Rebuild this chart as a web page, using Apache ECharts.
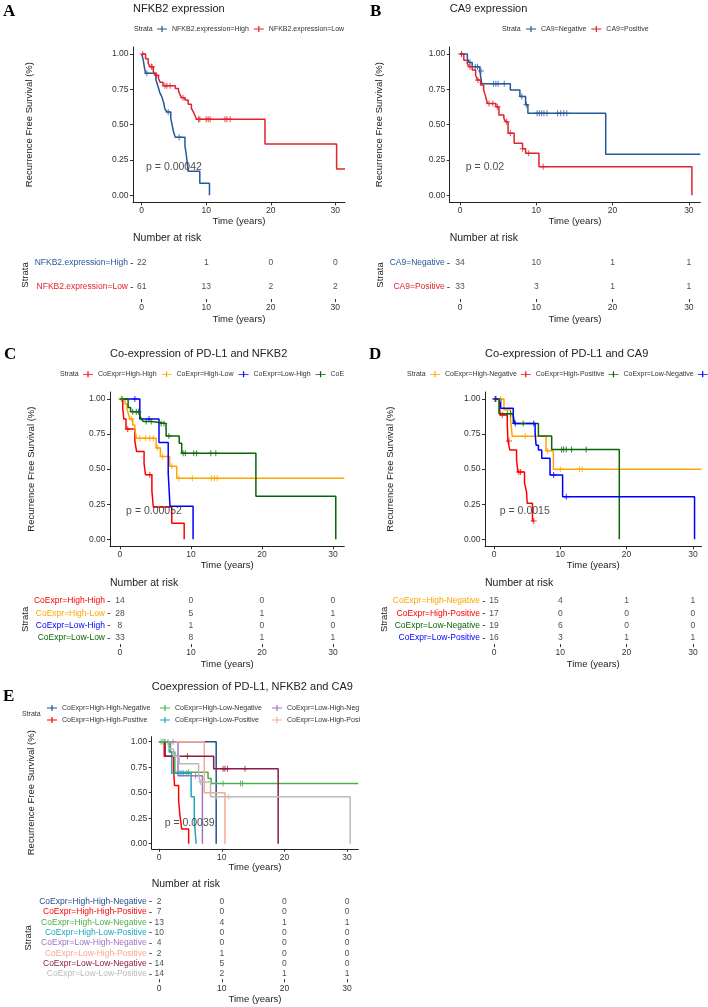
<!DOCTYPE html>
<html><head><meta charset="utf-8">
<script src="https://cdn.jsdelivr.net/npm/echarts@6/dist/echarts.min.js"></script>
<style>html,body{margin:0;padding:0;background:#fff}#c{width:708px;height:1007px}</style>
</head><body><div id="c"></div>
<script>
// ---------------- DATA ----------------
const T_TICKS = [0, 10, 20, 30];
const S_TICKS = [0, 0.25, 0.5, 0.75, 1];

// Panel A : NFKB2 expression
const A_names = ['NFKB2.expression=High', 'NFKB2.expression=Low'];
const A_high = [[0,1],[0.25,0.955],[0.4,0.909],[0.6,0.864],[2.2,0.818],[2.5,0.773],[2.8,0.727],[3.1,0.70],[3.4,0.655],[3.6,0.61],[3.9,0.59],[4.5,0.545],[4.7,0.50],[4.9,0.455],[5.2,0.41],[6.7,0.35],[6.9,0.29],[7.2,0.17],[9.0,0.085],[10.5,0]];
const A_high_cens = [0.8, 4.1, 5.8];
const A_low = [[0,1],[0.6,0.967],[1.0,0.934],[1.3,0.91],[1.8,0.875],[2.1,0.85],[2.6,0.826],[2.85,0.80],[3.3,0.775],[5.2,0.755],[5.7,0.74],[5.95,0.71],[6.2,0.69],[6.7,0.675],[7.2,0.645],[7.7,0.615],[8.0,0.59],[8.25,0.565],[8.5,0.538],[19.1,0.363],[30.2,0.186]];
const A_low_cens = [0.15,1.5,1.6,2.3,3.6,3.9,4.4,6.4,8.8,9.0,10.0,10.3,10.6,12.9,13.2,13.7,32.5];
const A_risk = [[22,1,0,0],[61,13,2,2]];

// Panel B : CA9 expression
const B_names = ['CA9=Negative', 'CA9=Positive'];
const B_neg = [[0,1],[0.96,0.97],[1.2,0.94],[1.6,0.91],[2.6,0.88],[2.85,0.79],[6.6,0.745],[7.85,0.70],[8.6,0.64],[8.9,0.58],[19.1,0.29]];
const B_neg_cens = [0.2,1.3,2.0,2.3,2.75,4.4,4.7,5.0,5.8,8.1,8.7,10.1,10.4,10.7,11.0,11.4,12.8,13.2,13.6,14.0,32.5];
const B_pos = [[0,1],[0.5,0.955],[0.96,0.93],[1.2,0.91],[1.6,0.887],[2.05,0.85],[2.3,0.815],[2.7,0.78],[3.1,0.745],[3.35,0.70],[3.6,0.65],[4.7,0.627],[5.1,0.568],[5.75,0.545],[6.0,0.52],[6.3,0.44],[7.1,0.368],[8.2,0.33],[8.6,0.297],[10.35,0.203],[30.4,0]];
const B_pos_cens = [0.2,1.3,2.35,3.8,4.3,4.9,6.1,6.6,8.2,9.0,10.9];
const B_risk = [[34,10,1,1],[33,3,1,1]];

// Panel C : Co-expression of PD-L1 and NFKB2
const C_names = ['CoExpr=High-High','CoExpr=High-Low','CoExpr=Low-High','CoExpr=Low-Low'];
const C_hh = [[0,1],[0.4,0.929],[0.55,0.857],[0.85,0.786],[2.1,0.70],[2.35,0.625],[3.4,0.54],[3.6,0.46],[4.5,0.345],[4.7,0.23],[7.3,0.115],[9.05,0]];
const C_hh_cens = [1.1, 4.2];
const C_hl = [[0,1],[0.7,0.964],[1.0,0.929],[1.2,0.893],[1.4,0.857],[1.8,0.815],[2.1,0.78],[2.35,0.72],[5.1,0.65],[5.7,0.59],[7.0,0.52],[8.0,0.435]];
const C_hl_cens = [0.2,1.6,2.8,3.6,4.2,4.7,5.3,6.0,7.3,8.3,10.2,12.9,13.3,13.7,32.5];
const C_lh = [[0,1],[2.8,0.857],[5.5,0.69],[6.8,0.47],[7.05,0.235],[10.3,0]];
const C_lh_cens = [2.1, 4.1];
const C_ll = [[0,1],[1.15,0.94],[1.5,0.91],[2.8,0.88],[3.05,0.855],[3.3,0.84],[4.5,0.826],[6.5,0.736],[8.35,0.684],[8.7,0.613],[19.15,0.306],[30.4,0]];
const C_ll_cens = [0.3,1.8,2.3,2.6,3.7,4.4,5.8,6.2,6.9,8.9,9.2,10.4,10.8,12.8,13.5];
const C_risk = [[14,0,0,0],[28,5,1,1],[8,1,0,0],[33,8,1,1]];

// Panel D : Co-expression of PD-L1 and CA9
const D_names = ['CoExpr=High-Negative','CoExpr=High-Positive','CoExpr=Low-Negative','CoExpr=Low-Positive'];
const D_hn = [[0,1],[1.5,0.923],[2.5,0.85],[2.75,0.735],[7.85,0.632],[8.95,0.50]];
const D_hn_cens = [0.1,1.0,4.7,8.1,10.0,12.9,13.3,32.5];
const D_hp = [[0,1],[0.85,0.94],[0.9,0.886],[2.0,0.815],[2.1,0.70],[2.4,0.636],[3.4,0.565],[3.6,0.48],[4.6,0.40],[4.9,0.34],[5.0,0.257],[5.8,0.13]];
const D_hp_cens = [1.25,2.25,3.75,4.0,6.0];
const D_ln = [[0,1],[0.75,0.895],[2.9,0.826],[6.7,0.736],[8.7,0.64],[18.9,0]];
const D_ln_cens = [0.3,2.0,2.5,4.4,10.2,10.5,10.9,11.7,13.9];
const D_lp = [[0,1],[1.0,0.935],[2.9,0.88],[3.1,0.826],[6.2,0.755],[6.35,0.67],[6.7,0.637],[7.2,0.577],[8.45,0.458],[10.35,0.304],[30.25,0]];
const D_lp_cens = [0.2,3.2,6.0,9.0,10.9];
const D_risk = [[15,4,1,1],[17,0,0,0],[19,6,0,0],[16,3,1,1]];

// Panel E : Coexpression of PD-L1, NFKB2 and CA9
const E_names = ['CoExpr=High-High-Negative','CoExpr=High-High-Positive','CoExpr=High-Low-Negative','CoExpr=High-Low-Positive','CoExpr=Low-High-Negative','CoExpr=Low-High-Positive','CoExpr=Low-Low-Negative','CoExpr=Low-Low-Positive'];
const E_hhn = [[0,1],[9.1,0]];
const E_hhn_cens = [0.9];
const E_hhp = [[0,1],[0.8,0.857],[2.3,0.714],[2.45,0.571],[3.1,0.429],[3.3,0.286],[3.6,0.143],[4.7,0]];
const E_hhp_cens = [];
const E_hln = [[0,1],[1.8,0.9],[2.5,0.70],[7.8,0.64],[8.3,0.59]];
const E_hln_cens = [0.3,0.6,1.4,4.7,10.2,13.0,13.3,32.5];
const E_hlp = [[0,1],[1.6,0.9],[2.0,0.69],[5.1,0.46],[5.6,0.23],[5.9,0]];
const E_hlp_cens = [3.3,3.6,3.9,4.4];
const E_lhn = [[0,1],[3.0,0.667],[6.9,0]];
const E_lhn_cens = [2.2,5.8];
const E_lhp = [[0,1],[7.2,0.5],[10.5,0]];
const E_lhp_cens = [];
const E_lln = [[0,1],[0.95,0.857],[8.7,0.735],[19.0,0]];
const E_lln_cens = [4.5,10.2,10.5,10.9,13.7];
const E_llp = [[0,1],[1.5,0.929],[2.3,0.857],[3.2,0.785],[6.3,0.69],[6.5,0.605],[8.2,0.46],[30.5,0]];
const E_llp_cens = [2.6,6.6,9.1,11.1];
const E_risk = [[2,0,0,0],[7,0,0,0],[13,4,1,1],[10,0,0,0],[4,0,0,0],[2,1,0,0],[14,5,0,0],[14,2,1,1]];

// ---------------- STYLE / LAYOUT ----------------
const FONT = '"Liberation Sans", Arial, Helvetica, sans-serif';
const SERIF = '"Liberation Serif", "Times New Roman", serif';
const COL = {
  navy:'#25599A', red:'#E3222A',
  cRed:'#FF0000', cOrange:'#FFA500', cBlue:'#0000FF', cGreen:'#0A650A',
  eNavy:'#23508F', eRed:'#FF0000', eGreen:'#4DAF4A', eTeal:'#1AA7BF', ePurple:'#A173C4', eSalmon:'#F8A98E', eMaroon:'#8C1C45', eGray:'#BBBBBB'
};
const PLUS = 'path://M-0.17,-1L0.17,-1L0.17,-0.17L1,-0.17L1,0.17L0.17,0.17L0.17,1L-0.17,1L-0.17,0.17L-1,0.17L-1,-0.17L-0.17,-0.17Z';
const KEY = 'path://M0,2.6L10,2.6L10,3.4L0,3.4Z M4.4,0L5.6,0L5.6,6L4.4,6Z';

const PANELS = [
  { letter:'A', letterXY:[3,12], title:'NFKB2 expression', titleY:9, pval:'p = 0.00042', pvalAt:[0.6,0.2],
    strata:[
      {name:A_names[0], color:COL.navy, steps:A_high, cens:A_high_cens, risk:A_risk[0]},
      {name:A_names[1], color:COL.red, steps:A_low, cens:A_low_cens, risk:A_risk[1]}],
    xr:[-1.35,31.5], plot:{left:133, top:46.9, width:212, height:155.5}, risk:{left:133, top:251, width:212, height:48},
    yNameGap:99, strataGap:99.7, narY:238.3, strataX:134, legY:29,
    legends:[{left:157, top:25.5, itemGap:5, names:A_names}] },
  { letter:'B', letterXY:[370,12], title:'CA9 expression', titleY:9, pval:'p = 0.02', pvalAt:[0.7,0.2],
    strata:[
      {name:B_names[0], color:COL.navy, steps:B_neg, cens:B_neg_cens, risk:B_risk[0]},
      {name:B_names[1], color:COL.red, steps:B_pos, cens:B_pos_cens, risk:B_risk[1]}],
    xr:[-1.35,31.5], plot:{left:449.7, top:46.9, width:250.6, height:155.5}, risk:{left:449.7, top:251, width:250.6, height:48},
    yNameGap:65, strataGap:60, narY:238.3, strataX:502, legY:29,
    legends:[{left:526, top:25.5, itemGap:5, names:B_names}] },
  { letter:'C', letterXY:[4,355], title:'Co-expression of PD-L1 and NFKB2', titleY:354, pval:'p = 0.00052', pvalAt:[0.8,0.2],
    strata:[
      {name:C_names[0], color:COL.cRed, steps:C_hh, cens:C_hh_cens, risk:C_risk[0]},
      {name:C_names[1], color:COL.cOrange, steps:C_hl, cens:C_hl_cens, risk:C_risk[1]},
      {name:C_names[2], color:COL.cBlue, steps:C_lh, cens:C_lh_cens, risk:C_risk[2]},
      {name:C_names[3], color:COL.cGreen, steps:C_ll, cens:C_ll_cens, risk:C_risk[3]}],
    xr:[-1.4,31.6], plot:{left:110, top:392, width:234.3, height:154.3}, risk:{left:110, top:594.8, width:234.3, height:49.3},
    yNameGap:73.7, strataGap:76, narY:582.7, strataX:60, legY:374.3,
    legends:[{left:83, top:370.8, itemGap:5, names:C_names, trunc:{'CoExpr=Low-Low':'CoE'}}] },
  { letter:'D', letterXY:[369,355], title:'Co-expression of PD-L1 and CA9', titleY:354, pval:'p = 0.0015', pvalAt:[0.8,0.2],
    strata:[
      {name:D_names[0], color:COL.cOrange, steps:D_hn, cens:D_hn_cens, risk:D_risk[0]},
      {name:D_names[1], color:COL.cRed, steps:D_hp, cens:D_hp_cens, risk:D_risk[1]},
      {name:D_names[2], color:COL.cGreen, steps:D_ln, cens:D_ln_cens, risk:D_risk[2]},
      {name:D_names[3], color:COL.cBlue, steps:D_lp, cens:D_lp_cens, risk:D_risk[3]}],
    xr:[-1.36,31.3], plot:{left:485, top:392, width:216.5, height:154.3}, risk:{left:485, top:594.8, width:216.5, height:49.3},
    yNameGap:90, strataGap:93.7, narY:583, strataX:407, legY:374.3,
    legends:[{left:430, top:370.8, itemGap:4, names:D_names, trunc:{'CoExpr=Low-Positive':''}}] },
  { letter:'E', letterXY:[3,697], title:'Coexpression of PD-L1, NFKB2 and CA9', titleY:687, pval:'p = 0.0039', pvalAt:[0.8,0.2],
    strata:[
      {name:E_names[0], color:COL.eNavy, steps:E_hhn, cens:E_hhn_cens, risk:E_risk[0]},
      {name:E_names[1], color:COL.eRed, steps:E_hhp, cens:E_hhp_cens, risk:E_risk[1]},
      {name:E_names[2], color:COL.eGreen, steps:E_hln, cens:E_hln_cens, risk:E_risk[2]},
      {name:E_names[3], color:COL.eTeal, steps:E_hlp, cens:E_hlp_cens, risk:E_risk[3]},
      {name:E_names[4], color:COL.ePurple, steps:E_lhn, cens:E_lhn_cens, risk:E_risk[4]},
      {name:E_names[5], color:COL.eSalmon, steps:E_lhp, cens:E_lhp_cens, risk:E_risk[5]},
      {name:E_names[6], color:COL.eMaroon, steps:E_lln, cens:E_lln_cens, risk:E_risk[6]},
      {name:E_names[7], color:COL.eGray, steps:E_llp, cens:E_llp_cens, risk:E_risk[7]}],
    xr:[-1.2,31.8], plot:{left:151.7, top:736.6, width:206.6, height:112.2}, risk:{left:151.7, top:896.5, width:206.6, height:82.7},
    yNameGap:115.5, strataGap:118, narY:884.3, strataX:22, legY:714,
    legends:[
      {left:47, top:704.5, orient:'vertical', itemGap:5, names:[E_names[0],E_names[1]]},
      {left:160, top:704.5, orient:'vertical', itemGap:5, names:[E_names[2],E_names[3]]},
      {left:272, top:704.5, orient:'vertical', itemGap:5, names:[E_names[4],E_names[5]],
       trunc:{'CoExpr=Low-High-Negative':'CoExpr=Low-High-Neg','CoExpr=Low-High-Positive':'CoExpr=Low-High-Posi'}}] }
];

// ---------------- BUILD ----------------
function surv(steps, t) {
  let s = 1;
  for (const [x, y] of steps) { if (x <= t) s = y; else break; }
  return s;
}
// step curve, continued flat to the last censoring time (cut at the axis end)
function lineData(steps, cens, xmax) {
  const d = steps.slice();
  const last = steps[steps.length - 1];
  const maxC = cens.length ? Math.max(...cens) : -Infinity;
  if (maxC > last[0]) d.push([Math.min(maxC, xmax), last[1]]);
  return d;
}
const axisText = {fontSize:8.5, color:'#333', fontFamily:FONT};
const nameText = {fontSize:9.5, color:'#222', fontFamily:FONT};

const option = {animation:false, backgroundColor:'#fff', grid:[], xAxis:[], yAxis:[], series:[], legend:[], graphic:[]};

function txt(x, y, text, size, extra) {
  option.graphic.push({type:'text', x:x, y:y, silent:true,
    style:Object.assign({text:text, fontSize:size, fontFamily:FONT, fill:'#222', align:'left', verticalAlign:'middle'}, extra || {})});
}

PANELS.forEach(p => {
  const gP = option.grid.length;
  option.grid.push(Object.assign({containLabel:false}, p.plot));
  const gR = gP + 1;
  option.grid.push(Object.assign({containLabel:false}, p.risk));

  option.xAxis.push({type:'value', gridIndex:gP, min:p.xr[0], max:p.xr[1],
    axisLine:{show:true, onZero:false, lineStyle:{color:'#222', width:1}},
    axisTick:{show:true, customValues:T_TICKS, length:3, lineStyle:{color:'#333'}},
    axisLabel:Object.assign({show:true, customValues:T_TICKS, margin:4}, axisText),
    splitLine:{show:false},
    name:'Time (years)', nameLocation:'middle', nameGap:13.5, nameTextStyle:nameText});
  option.yAxis.push({type:'value', gridIndex:gP, min:-0.05, max:1.05,
    axisLine:{show:true, onZero:false, lineStyle:{color:'#222', width:1}},
    axisTick:{show:true, customValues:S_TICKS, length:3, lineStyle:{color:'#333'}},
    axisLabel:Object.assign({show:true, customValues:S_TICKS, margin:4.5, formatter:v => v.toFixed(2)}, axisText),
    splitLine:{show:false},
    name:'Recurrence Free Survival (%)', nameLocation:'middle', nameRotate:90, nameGap:p.yNameGap, nameTextStyle:nameText});

  const names = p.strata.map(s => s.name);
  const cols = p.strata.map(s => s.color);
  option.xAxis.push({type:'value', gridIndex:gR, min:p.xr[0], max:p.xr[1],
    axisLine:{show:false, onZero:false},
    axisTick:{show:true, customValues:T_TICKS, length:3, lineStyle:{color:'#333'}},
    axisLabel:Object.assign({show:true, customValues:T_TICKS, margin:4.5}, axisText),
    splitLine:{show:false},
    name:'Time (years)', nameLocation:'middle', nameGap:15, nameTextStyle:nameText});
  option.yAxis.push({type:'category', gridIndex:gR, data:names, inverse:true,
    axisLine:{show:false, onZero:false},
    axisTick:{show:true, alignWithLabel:true, interval:0, length:2.5, lineStyle:{color:'#555'}},
    axisLabel:{show:true, interval:0, margin:5, fontSize:8.5, fontFamily:FONT, color:(v, i) => cols[i]},
    splitLine:{show:false},
    name:'Strata', nameLocation:'middle', nameRotate:90, nameGap:p.strataGap, nameTextStyle:nameText});

  p.strata.forEach(s => {
    option.series.push({type:'line', name:s.name, xAxisIndex:gP, yAxisIndex:gP, step:'end', clip:true,
      data:lineData(s.steps, s.cens, p.xr[1]), showSymbol:false, symbol:PLUS, silent:true,
      lineStyle:{color:s.color, width:1.5}, itemStyle:{color:s.color}, z:2});
    if (s.cens.length) option.series.push({type:'scatter', name:s.name + ' (censored)', xAxisIndex:gP, yAxisIndex:gP, clip:true,
      data:s.cens.map(t => [t, surv(s.steps, t)]), symbol:PLUS, symbolSize:6, silent:true,
      itemStyle:{color:s.color}, z:3});
  });

  option.series.push({type:'scatter', xAxisIndex:gP, yAxisIndex:gP, data:[p.pvalAt], symbolSize:1, silent:true,
    itemStyle:{color:'rgba(0,0,0,0)'},
    label:{show:true, position:'right', distance:0, formatter:p.pval, fontSize:10.5, color:'#222', fontFamily:FONT}});

  const rd = [];
  p.strata.forEach(s => s.risk.forEach((n, j) => rd.push([T_TICKS[j], s.name, n])));
  option.series.push({type:'scatter', xAxisIndex:gR, yAxisIndex:gR, data:rd, symbolSize:1, silent:true,
    itemStyle:{color:'rgba(0,0,0,0)'},
    label:{show:true, position:'inside', formatter:q => q.value[2], fontSize:8.5, color:'#222', fontFamily:FONT}});

  p.legends.forEach(L => {
    const tr = L.trunc || {};
    option.legend.push({data:L.names, left:L.left, top:L.top, orient:L.orient || 'horizontal', width:420,
      itemWidth:10, itemHeight:6, itemGap:L.itemGap, icon:KEY, padding:0, selectedMode:false,
      formatter:n => (n in tr ? tr[n] : n),
      textStyle:{fontSize:7, color:'#333', fontFamily:FONT}});
  });

  txt(p.letterXY[0], p.letterXY[1], p.letter, 17, {fontFamily:SERIF, fontWeight:'bold', fill:'#000'});
  txt(p.plot.left, p.titleY, p.title, 11, {fill:'#222'});
  txt(p.plot.left, p.narY, 'Number at risk', 10.5, {fill:'#222'});
  txt(p.strataX, p.legY, 'Strata', 7, {fill:'#333'});
});

const chart = echarts.init(document.getElementById('c'), null, {renderer:'canvas'});
chart.setOption(option);
</script>
</body></html>
